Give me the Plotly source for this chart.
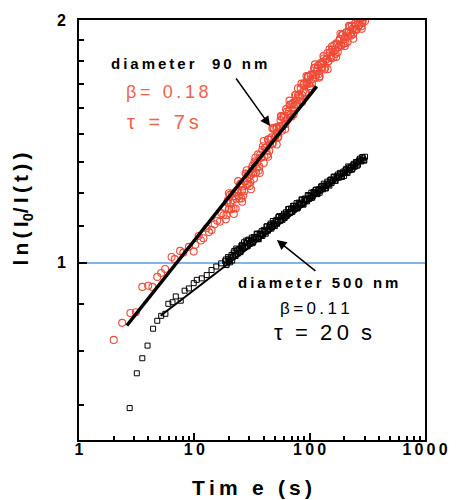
import math
import plotly.graph_objects as go

# ---- data -------------------------------------------------------------
# 90 nm particles: early sparse points and the dense late-time record
t90_early = [2.0, 2.37, 2.79, 3.11, 3.54, 3.98, 4.33, 4.77, 5.16, 5.58, 6.35, 6.77,
             7.53, 8.03, 8.97, 9.88, 10.2, 10.9, 11.4, 12.0, 12.8, 13.4, 14.1, 15.0,
             15.8, 16.6, 17.2, 17.9]
v90_early = [0.803, 0.843, 0.867, 0.869, 0.934, 0.937, 0.934, 0.961, 0.972, 0.983, 1.017, 1.011,
             1.035, 1.030, 1.047, 1.033, 1.053, 1.080, 1.066, 1.073, 1.104, 1.092, 1.099, 1.117,
             1.128, 1.125, 1.152, 1.146]

# sampling times of the late-time record (interleaved read-outs)
t_late_a = [18.5, 19.0, 19.6, 20.1, 20.7, 21.3, 21.9, 22.5, 23.1, 23.8, 24.5, 25.2, 25.9, 26.6,
            27.4, 28.2, 29.0, 29.8, 30.6, 31.5, 32.4, 33.3, 34.2, 35.2, 36.2, 37.2, 38.3, 39.4,
            40.5, 41.6, 42.8, 44.0, 45.3, 46.6, 47.9, 49.2, 50.6, 52.1, 53.5, 55.1, 56.6, 58.2,
            59.9, 61.6, 63.3, 65.1, 67.0, 68.9, 70.8, 72.8, 74.9, 77.0, 79.2, 81.4, 83.7, 86.1,
            88.5, 91.0, 93.6, 96.3, 99.0, 101.8, 104.7, 107.6, 110.7, 113.8, 117.0, 120.3, 123.7,
            127.2, 130.8, 134.5, 138.3, 142.2, 146.3, 150.4, 154.7, 159.0, 163.5, 168.1, 172.9,
            177.8, 182.8, 188.0, 193.3, 198.8, 204.4, 210.2, 216.1, 222.2, 228.5, 235.0, 241.6,
            248.5, 255.5, 262.7, 270.1, 277.8, 285.6, 293.7, 302.0]
t_late_b = [18.75, 19.3, 19.85, 20.4, 21.0, 21.6, 22.2, 22.8, 23.45, 24.15, 24.85, 25.55, 26.25,
            27.0, 27.8, 28.6, 29.4, 30.2, 31.05, 31.95, 32.85, 33.75, 34.7, 35.7, 36.7, 37.75,
            38.85, 39.95, 41.05, 42.2, 43.4, 44.65, 45.95, 47.25, 48.55, 49.9, 51.35, 52.8, 54.3,
            55.85, 57.4, 59.05, 60.75, 62.45, 64.2, 66.05, 67.95, 69.85, 71.8, 73.85, 75.95, 78.1,
            80.3, 82.55, 84.9, 87.3, 89.75, 92.3, 94.95, 97.65, 100.4, 103.25, 106.15, 109.15,
            112.25, 115.4, 118.65, 122.0, 125.45, 129.0, 132.65, 136.4, 140.25, 144.25, 148.35,
            152.55, 156.85, 161.25, 165.8, 170.5, 175.35, 180.3, 185.4, 190.65, 196.05, 201.6,
            207.3, 213.15, 219.15, 225.35, 231.75, 238.3, 245.05, 252.0, 259.1, 266.4, 273.95,
            281.7, 289.65, 297.85]
t90_late_c = [19.9, 22.0, 24.0, 26.0, 28.5, 31.0, 33.8, 36.9, 40.0, 43.6, 47.5, 51.8, 56.3,
              61.3, 66.8, 72.7, 79.1, 86.1, 93.8, 102.1, 111.1, 121.0, 131.7, 143.4, 156.1,
              169.9, 185.0, 201.4, 219.3, 238.7, 259.8, 282.9]

v90_late_a = [1.170, 1.146, 1.197, 1.167, 1.188, 1.219, 1.169, 1.210, 1.201, 1.232, 1.202, 1.254,
              1.230, 1.212, 1.261, 1.290, 1.253, 1.277, 1.260, 1.309, 1.293, 1.336, 1.294, 1.334,
              1.302, 1.361, 1.351, 1.395, 1.355, 1.388, 1.362, 1.422, 1.402, 1.431, 1.406, 1.465,
              1.434, 1.474, 1.433, 1.478, 1.518, 1.477, 1.512, 1.486, 1.540, 1.530, 1.570, 1.529,
              1.574, 1.559, 1.615, 1.566, 1.612, 1.607, 1.647, 1.613, 1.664, 1.623, 1.674, 1.704,
              1.667, 1.709, 1.671, 1.709, 1.746, 1.709, 1.742, 1.714, 1.767, 1.744, 1.777, 1.737,
              1.785, 1.820, 1.779, 1.823, 1.794, 1.827, 1.862, 1.816, 1.865, 1.850, 1.895, 1.858,
              1.916, 1.893, 1.872, 1.930, 1.908, 1.961, 1.914, 1.951, 1.944, 1.982, 1.945, 1.989,
              1.972, 2.010, 1.983, 2.016, 1.995]
v90_late_b = [1.133, 1.189, 1.165, 1.215, 1.166, 1.197, 1.222, 1.168, 1.224, 1.210, 1.251, 1.202,
              1.244, 1.227, 1.291, 1.249, 1.288, 1.246, 1.285, 1.319, 1.272, 1.330, 1.309, 1.363,
              1.317, 1.351, 1.381, 1.330, 1.389, 1.378, 1.422, 1.377, 1.422, 1.406, 1.471, 1.430,
              1.469, 1.429, 1.468, 1.503, 1.458, 1.517, 1.497, 1.551, 1.505, 1.540, 1.570, 1.519,
              1.579, 1.570, 1.616, 1.572, 1.617, 1.602, 1.668, 1.629, 1.669, 1.629, 1.669, 1.703,
              1.656, 1.713, 1.690, 1.743, 1.695, 1.728, 1.756, 1.703, 1.761, 1.748, 1.792, 1.746,
              1.790, 1.775, 1.839, 1.799, 1.838, 1.797, 1.837, 1.871, 1.825, 1.885, 1.864, 1.917,
              1.870, 1.903, 1.931, 1.879, 1.937, 1.925, 1.968, 1.920, 1.963, 1.946, 2.010, 1.968,
              2.006, 1.964, 2.002, 2.036]
v90_late_c = [1.220, 1.150, 1.263, 1.191, 1.303, 1.234, 1.350, 1.293, 1.416, 1.354, 1.468, 1.402,
              1.521, 1.465, 1.589, 1.528, 1.646, 1.583, 1.705, 1.645, 1.762, 1.696, 1.804, 1.738,
              1.856, 1.800, 1.923, 1.857, 1.967, 1.896, 2.010, 1.950]

# 500 nm particles
t500_early = [2.75, 3.17, 3.54, 3.93, 4.39, 4.77, 5.16, 5.61, 5.95, 6.47, 6.9, 7.62, 8.24,
              8.97, 9.88, 10.5, 11.6, 12.8, 14.1, 15.5, 17.1]
v500_early = [0.661, 0.730, 0.762, 0.790, 0.829, 0.848, 0.860, 0.865, 0.890, 0.894, 0.909, 0.898,
              0.924, 0.930, 0.944, 0.953, 0.957, 0.966, 0.980, 0.990, 0.999]

v500_late_a = [1.005, 0.994, 1.017, 1.006, 1.016, 1.007, 1.030, 1.024, 1.042, 1.027, 1.041, 1.032,
               1.053, 1.049, 1.046, 1.066, 1.049, 1.065, 1.060, 1.075, 1.061, 1.076, 1.072, 1.087,
               1.070, 1.087, 1.095, 1.085, 1.095, 1.087, 1.110, 1.101, 1.114, 1.103, 1.127, 1.117,
               1.126, 1.118, 1.140, 1.129, 1.139, 1.131, 1.151, 1.148, 1.144, 1.166, 1.155, 1.168,
               1.157, 1.177, 1.171, 1.186, 1.171, 1.185, 1.181, 1.198, 1.181, 1.202, 1.196, 1.214,
               1.200, 1.212, 1.204, 1.224, 1.218, 1.233, 1.217, 1.234, 1.229, 1.246, 1.234, 1.247,
               1.237, 1.261, 1.251, 1.267, 1.256, 1.268, 1.279, 1.264, 1.281, 1.276, 1.293, 1.279,
               1.292, 1.282, 1.303, 1.297, 1.317, 1.303, 1.316, 1.307, 1.327, 1.318, 1.331, 1.324,
               1.343, 1.338, 1.353, 1.341, 1.354]
v500_late_b = [1.010, 0.999, 1.012, 1.002, 1.023, 1.018, 1.035, 1.020, 1.037, 1.036, 1.031, 1.050,
               1.044, 1.061, 1.047, 1.059, 1.069, 1.056, 1.068, 1.058, 1.077, 1.071, 1.087, 1.071,
               1.087, 1.086, 1.080, 1.099, 1.092, 1.110, 1.096, 1.109, 1.119, 1.108, 1.120, 1.111,
               1.131, 1.126, 1.143, 1.128, 1.144, 1.143, 1.137, 1.156, 1.149, 1.167, 1.154, 1.167,
               1.177, 1.165, 1.177, 1.168, 1.188, 1.182, 1.199, 1.183, 1.199, 1.198, 1.192, 1.211,
               1.204, 1.222, 1.208, 1.220, 1.231, 1.219, 1.232, 1.222, 1.243, 1.237, 1.254, 1.238,
               1.254, 1.252, 1.247, 1.269, 1.262, 1.279, 1.265, 1.277, 1.287, 1.276, 1.288, 1.278,
               1.298, 1.292, 1.308, 1.293, 1.313, 1.311, 1.305, 1.323, 1.316, 1.334, 1.320, 1.337,
               1.347, 1.336, 1.348, 1.339]

# stretched-exponential fits: ln(I0/I) = (t/tau)^beta
beta_90, tau_90 = 0.18, 7.0
beta_500, tau_500 = 0.11, 20.0
fit90_range = [2.6, 115.0]
fit500_range = [5.1, 305.0]

x_ticks = [1, 10, 100, 1000]
x_ticktext = ["1", "10", "100", "1000"]
y_ticks = [1, 2]
y_ticktext = ["1", "2"]

# ---- styling ----------------------------------------------------------
RED = "#ef4b36"
RED_TXT = "#f0624c"
BLUE = "#5b9bd8"
FONT = "Liberation Sans, Arial, sans-serif"
NB = "\u00a0"
W, H = 460, 500
L, R, T, B = 79, 26, 20, 60
PW, PH = W - L - R, H - T - B
Y_RANGE = [math.log10(0.6035), math.log10(2)]


def spaced(s, sep="\u2009"):
    """letter-spaced text; plain spaces become non-breaking spaces"""
    return sep.join(NB if c == " " else c for c in s)


def px(xp, yp):
    """pixel position -> paper coordinates"""
    return (xp - L) / PW, (H - B - yp) / PH


fig = go.Figure()

# reference level ln(I0/I) = 1
fig.add_trace(go.Scatter(x=[1, 1000], y=[1, 1], mode="lines",
                         line=dict(color=BLUE, width=1.5), hoverinfo="skip"))

fig.add_trace(go.Scatter(x=t90_early + t_late_a + t_late_b + t90_late_c,
                         y=v90_early + v90_late_a + v90_late_b + v90_late_c, mode="markers",
                         marker=dict(symbol="circle-open", size=7, color=RED,
                                     line=dict(width=1.1, color=RED))))
fig.add_trace(go.Scatter(x=t500_early + t_late_a + t_late_b,
                         y=v500_early + v500_late_a + v500_late_b, mode="markers",
                         marker=dict(symbol="square-open", size=5, color="black",
                                     line=dict(width=1, color="black"))))

fig.add_trace(go.Scatter(x=fit90_range, y=[(t / tau_90) ** beta_90 for t in fit90_range],
                         mode="lines", line=dict(color="black", width=3.5)))
fig.add_trace(go.Scatter(x=fit500_range, y=[(t / tau_500) ** beta_500 for t in fit500_range],
                         mode="lines", line=dict(color="black", width=2)))

minor_x = [m * d for d in (1, 10, 100) for m in range(2, 10)]
minor_y = [k / 9 for k in range(6, 18) if k != 9]

fig.update_xaxes(type="log", range=[0, 3], showgrid=False, zeroline=False,
                 showline=True, linecolor="black", linewidth=2, mirror=True,
                 ticks="inside", ticklen=7, tickwidth=1.5, tickcolor="black",
                 tickvals=x_ticks,
                 ticktext=["<b>" + spaced(s) + "</b>" for s in x_ticktext],
                 tickfont=dict(family=FONT, size=16, color="black"),
                 ticklabelstandoff=-6,
                 minor=dict(tickvals=minor_x, ticks="inside", ticklen=4,
                            tickwidth=1.5, tickcolor="black"))
fig.update_yaxes(type="log", range=Y_RANGE, showgrid=False,
                 zeroline=False, showline=True, linecolor="black", linewidth=2, mirror=True,
                 ticks="inside", ticklen=8, tickwidth=2, tickcolor="black",
                 tickvals=y_ticks, showticklabels=False,
                 minor=dict(tickvals=minor_y, ticks="inside", ticklen=5,
                            tickwidth=2, tickcolor="black"))

ann = []

# y tick labels, placed at their values on the log axis
for v, s in zip(y_ticks, y_ticktext):
    ann.append(dict(x=0, y=math.log10(v), xref="paper", yref="y", xanchor="right",
                    yanchor="middle", xshift=-11, showarrow=False, text="<b>" + s + "</b>",
                    font=dict(family=FONT, size=16, color="black")))


def text(xp, yp, s, size, color="black", bold=False, xanchor="center", angle=0):
    xx, yy = px(xp, yp)
    ann.append(dict(x=xx, y=yy, xref="paper", yref="paper", showarrow=False,
                    text=("<b>" + s + "</b>") if bold else s, xanchor=xanchor,
                    yanchor="middle", textangle=angle,
                    font=dict(family=FONT, size=size, color=color)))


text(192, 64, spaced("diameter  90 nm"), 15, bold=True)
text(125, 92, spaced("β= 0.18"), 18, RED_TXT, xanchor="left")
text(165, 122, spaced("τ = 7s"), 20, RED_TXT)
text(324, 282, spaced("diameter 500 nm"), 15, bold=True)
text(321, 308, spaced("β=0.11"), 17)
text(329, 332, "τ" + NB * 2 + "=" + NB * 2 + spaced("20") + NB * 2 + "s", 22)
text(256, 487, spaced("Tim e (s)"), 21, bold=True)
text(21, 209, "l\u2009n\u2009(\u2009I<sub>0</sub>/\u2009I\u2009(\u2009t\u2009)\u2009)", 21,
     bold=True, angle=-90)

# pointer arrows
for head, tail in [((275, 126), (240, 77)), ((282, 240), (322, 272))]:
    hx, hy = px(*head)
    ann.append(dict(x=hx, y=hy, xref="paper", yref="paper", ax=tail[0] - head[0],
                    ay=tail[1] - head[1], showarrow=True, arrowhead=2, arrowsize=1.3,
                    arrowwidth=1.5, arrowcolor="black", standoff=0, text=""))

fig.update_layout(width=W, height=H, margin=dict(l=L, r=R, t=T, b=B),
                  paper_bgcolor="white", plot_bgcolor="white", showlegend=False,
                  annotations=ann)

fig.write_html("out.html")
